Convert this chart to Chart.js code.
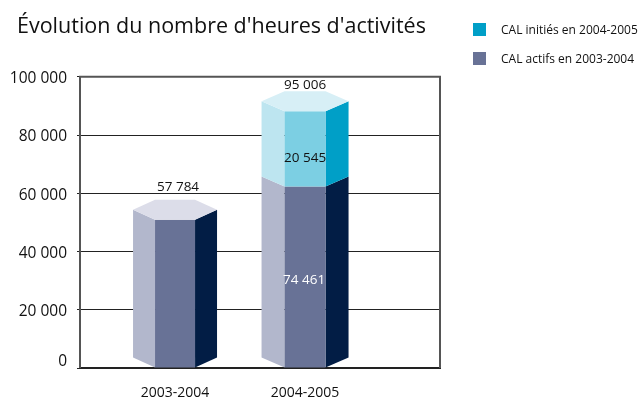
<!DOCTYPE html>
<html lang="fr">
<head>
<meta charset="utf-8">
<title>Évolution du nombre d'heures d'activités</title>
<style>
  html, body { margin: 0; background: #fff; }
  canvas { display: block; }
</style>
</head>
<body>
<canvas id="chart" width="638" height="400"></canvas>
<script src="https://cdn.jsdelivr.net/npm/chart.js@4"></script>
<script>
// ── DATA ──
const titleText = "Évolution du nombre d'heures d'activités";
const categories = ['2003-2004', '2004-2005'];
const categoryPos = [1, 2];

// heights as drawn against the axis: totals match the printed numbers,
// the split in the second bar sits lower in the picture than 74 461 would
const actifsValues = [57784, 69200];
const initiesValues = [0, 25806];

// numbers printed on the bars
const totalLabels = ['57 784', '95 006'];
const actifsLabels = ['', '74 461'];
const initiesLabels = ['', '20 545'];

const legendActifs = 'CAL actifs en 2003-2004';
const legendInities = 'CAL initiés en 2004-2005';

// ── STYLE ──
const FONT = "'Open Sans', sans-serif";
const actifsFaces = { left: '#b2b7cc', front: '#687296', right: '#021d45', top: '#dcdde9' };
const initiesFaces = { left: '#bde5f0', front: '#7ccfe3', right: '#009fc7', top: '#d7eff6' };
const SIDE_W = 23;
const DEPTH = 20;

function poly(ctx, color, pts) {
  ctx.fillStyle = color;
  ctx.beginPath();
  pts.forEach((p, i) => (i ? ctx.lineTo(p[0], p[1]) : ctx.moveTo(p[0], p[1])));
  ctx.closePath();
  ctx.fill();
}

// trim: the first prism is a touch narrower than the second in the original
function drawPrism(ctx, el, faces, onGround, withTop, trim) {
  const l = el.x - el.width / 2 + trim;
  const r = el.x + el.width / 2 - trim;
  const side = SIDE_W - trim * 2;
  const frontTop = el.y + DEPTH;
  const sideTop = el.y + DEPTH / 2;
  const frontBot = onGround ? el.base : el.base + DEPTH;
  const sideBot = onGround ? el.base - DEPTH / 2 : el.base + DEPTH / 2;
  poly(ctx, faces.left, [[l - side, sideTop], [l, frontTop], [l, frontBot], [l - side, sideBot]]);
  poly(ctx, faces.right, [[r + side, sideTop], [r, frontTop], [r, frontBot], [r + side, sideBot]]);
  poly(ctx, faces.front, [[l, frontTop], [r, frontTop], [r, frontBot], [l, frontBot]]);
  if (withTop) {
    poly(ctx, faces.top, [[l - side, sideTop], [l, el.y], [r, el.y], [r + side, sideTop], [r, frontTop], [l, frontTop]]);
  }
}

// ── HEXAGONAL BARS, FRAME, LEGEND ──
const prismPlugin = {
  id: 'prisms',
  beforeDraw(chart) {
    // title starts right of the canvas edge, the axis labels need that room
    chart.titleBlock.left = 17;
    // tick labels sit a bit under their gridlines, the 0 label above its own
    const y = chart.scales.y;
    y.getLabelItems().forEach(it => {
      it.options.translation[1] += it.label === '0' ? -6 : 2;
    });
  },
  afterDatasetsDraw(chart) {
    const { ctx, chartArea: a } = chart;
    const low = chart.getDatasetMeta(0).data;
    const high = chart.getDatasetMeta(1).data;

    ctx.save();
    ctx.strokeStyle = '#555555';
    ctx.lineWidth = 2;
    ctx.beginPath();
    ctx.moveTo(a.left, a.bottom);
    ctx.lineTo(a.left, a.top);
    ctx.lineTo(a.right, a.top);
    ctx.lineTo(a.right, a.bottom);
    ctx.stroke();

    low.forEach((el, i) => {
      const hasUpper = initiesValues[i] > 0;
      const trim = i ? 0 : 0.5;
      drawPrism(ctx, el, actifsFaces, true, !hasUpper, trim);
      if (hasUpper) drawPrism(ctx, high[i], initiesFaces, false, true, trim);
    });

    // value labels
    ctx.font = '13.5px ' + FONT;
    ctx.textAlign = 'center';
    ctx.textBaseline = 'middle';
    low.forEach((el, i) => {
      const topEl = initiesValues[i] > 0 ? high[i] : el;
      ctx.fillStyle = '#111';
      ctx.fillText(totalLabels[i], el.x + (i ? 0 : 3), topEl.y - (i ? 6 : 13));
      if (initiesLabels[i]) {
        ctx.fillText(initiesLabels[i], el.x, (high[i].y + high[i].base) / 2 + DEPTH + 9);
      }
      if (actifsLabels[i]) {
        ctx.fillStyle = '#fff';
        ctx.fillText(actifsLabels[i], el.x - 1, (el.y + DEPTH + el.base) / 2 + 3);
      }
    });

    // legend
    const rows = [[legendInities, initiesFaces.right, 29.5], [legendActifs, actifsFaces.front, 58.5]];
    ctx.font = '12px ' + FONT;
    ctx.textAlign = 'left';
    rows.forEach(([text, color, y]) => {
      ctx.fillStyle = color;
      ctx.fillRect(473, y - 6.5, 13, 13);
      ctx.fillStyle = '#111';
      ctx.fillText(text, 501, y + 1);
    });
    ctx.restore();
  }
};

// ── CHART ──
const toPoints = values => values.map((v, i) => ({ x: categoryPos[i], y: v }));

new Chart(document.getElementById('chart'), {
  type: 'bar',
  data: {
    datasets: [
      { label: legendActifs, data: toPoints(actifsValues), backgroundColor: 'transparent', barThickness: 41 },
      { label: legendInities, data: toPoints(initiesValues), backgroundColor: 'transparent', barThickness: 41 }
    ]
  },
  options: {
    animation: false,
    responsive: false,
    layout: { padding: { left: 0, right: 198, top: 0, bottom: 0 } },
    plugins: {
      legend: { display: false },
      tooltip: { enabled: false },
      title: {
        display: true,
        text: titleText,
        align: 'start',
        color: '#111',
        font: { family: FONT, size: 21.5, weight: 'normal' },
        padding: { top: 14, bottom: 37 }
      }
    },
    scales: {
      x: {
        type: 'linear',
        stacked: true,
        offset: false,
        min: 0.269,
        max: 3.038,
        grid: { display: false },
        border: { color: '#222', width: 2 },
        afterBuildTicks: axis => { axis.ticks = categoryPos.map(v => ({ value: v })); },
        afterFit: axis => { axis.height = 32; },
        ticks: {
          color: '#111',
          padding: 9,
          maxRotation: 0,
          autoSkip: false,
          font: { family: FONT, size: 14 },
          callback: v => categories[categoryPos.indexOf(v)] ?? ''
        }
      },
      y: {
        stacked: true,
        min: 0,
        max: 100000,
        afterFit: axis => { axis.width = 80; },
        grid: { color: '#222', lineWidth: 1, tickLength: 3 },
        border: { display: false },
        ticks: {
          color: '#111',
          stepSize: 20000,
          padding: 10,
          font: { family: FONT, size: 15.5 },
          callback: v => String(v).replace(/\B(?=(\d{3})+$)/g, ' ')
        }
      }
    }
  },
  plugins: [prismPlugin]
});
</script>
</body>
</html>
